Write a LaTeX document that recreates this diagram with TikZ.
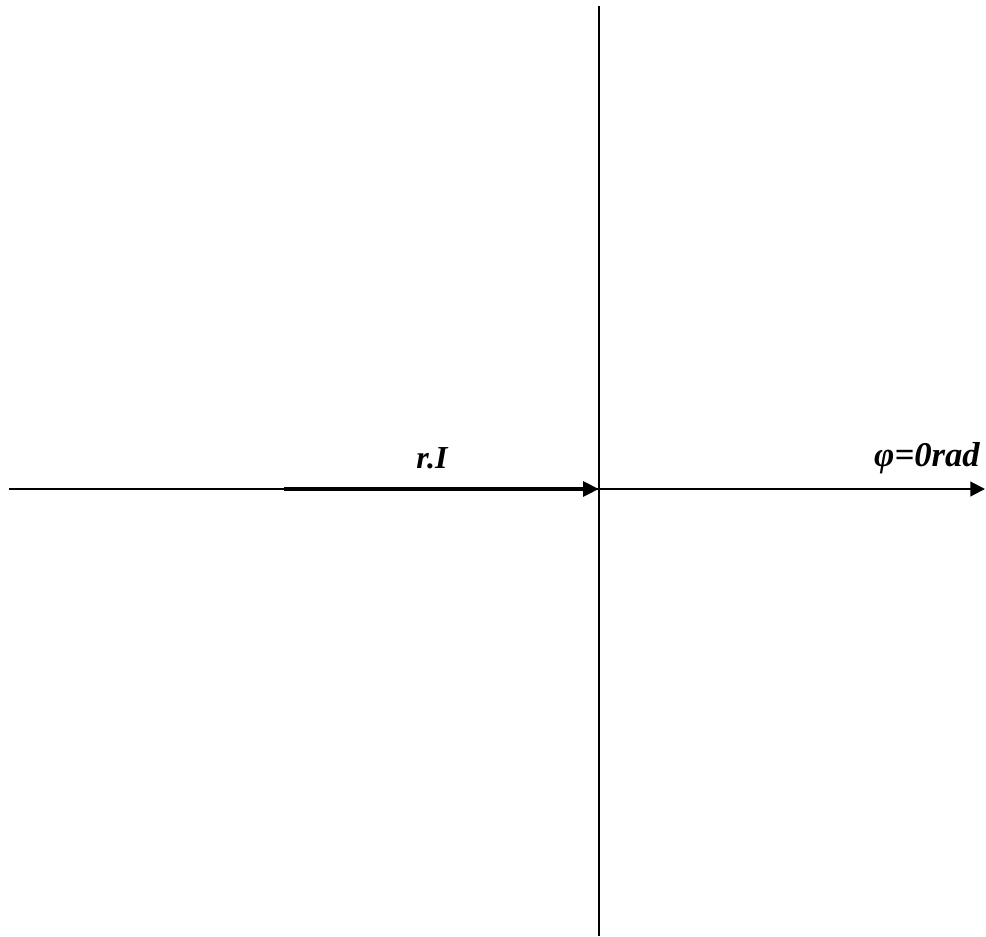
\documentclass[tikz,border=0pt]{standalone}
\usepackage{fontspec}
\setmainfont{Liberation Serif}
\usetikzlibrary{arrows.meta}
\begin{document}
\begin{tikzpicture}[x=0.75pt,y=-0.75pt,
  axis/.style={line width=1.5pt,-{Triangle[length=11pt,width=11pt]}},
  plainaxis/.style={line width=1.5pt},
  vec/.style={line width=3pt,-{Triangle[length=12pt,width=11pt]}},
  lbl/.style={font=\fontsize{24}{28}\selectfont\bfseries\itshape, inner sep=0pt, anchor=base}]
\useasboundingbox (0,0) rectangle (986,936);
\coordinate (xl) at (9,489);
\coordinate (xr) at (985,489);
\coordinate (yt) at (599,6);
\coordinate (yb) at (599,936);
\coordinate (o) at (599,489);
\coordinate (v0) at (284,489);
\draw[axis] (xl) -- (xr);
\draw[plainaxis] (yt) -- (yb);
\draw[vec] (v0) -- (o);
\node[lbl] (ri) at (432,468) {r.I};
\node[lbl, font=\fontsize{26}{30}\selectfont\bfseries\itshape] (phi) at (927,466) {φ=0rad};
\end{tikzpicture}
\end{document}
